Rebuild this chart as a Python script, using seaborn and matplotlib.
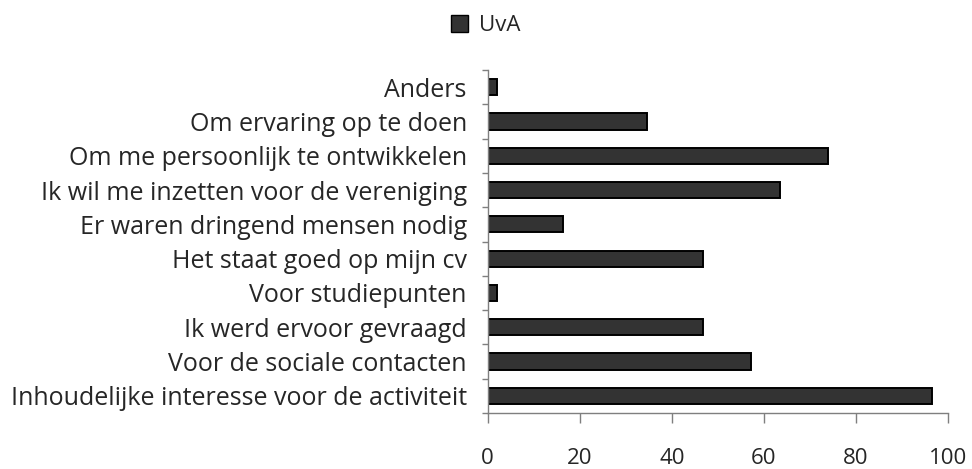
import matplotlib
matplotlib.use("Agg")
import matplotlib.pyplot as plt
import seaborn as sns
import numpy as np
import pandas as pd

categories = [
    "Anders",
    "Om ervaring op te doen",
    "Om me persoonlijk te ontwikkelen",
    "Ik wil me inzetten voor de vereniging",
    "Er waren dringend mensen nodig",
    "Het staat goed op mijn cv",
    "Voor studiepunten",
    "Ik werd ervoor gevraagd",
    "Voor de sociale contacten",
    "Inhoudelijke interesse voor de activiteit",
]
uva = [2.0, 34.7, 73.9, 63.6, 16.3, 46.8, 2.0, 46.8, 57.1, 96.6]
x_ticks = [0, 20, 40, 60, 80, 100]
series_name = "UvA"

sns.set_style("white")
plt.rcParams["font.family"] = ["Open Sans", "DejaVu Sans"]

df = pd.DataFrame({"categorie": categories, "waarde": uva})

fig = plt.figure(figsize=(9.72, 4.69), dpi=100)
ax = fig.add_axes([0.5017, 0.1194, 0.4736, 0.7313])

sns.barplot(data=df, x="waarde", y="categorie", order=categories,
            color="#333333", edgecolor="black", linewidth=1.4,
            width=0.47, saturation=1, ax=ax)

ax.set_xlim(0, 100)
ax.set_ylim(len(categories) - 0.5, -0.5)
ax.set_xlabel("")
ax.set_ylabel("")

ax.set_xticks(x_ticks)
ax.set_xticklabels([str(t) for t in x_ticks], fontsize=16)
ax.tick_params(axis="x", direction="out", length=7, width=1,
               color="#7f7f7f", pad=18, bottom=True)

ax.set_yticks(range(len(categories)))
ax.set_yticklabels(categories, fontsize=18)
ax.tick_params(axis="y", which="major", length=0, pad=15)
ax.set_yticks(np.arange(-0.5, len(categories)), minor=True)
ax.tick_params(axis="y", which="minor", direction="out", length=4,
               width=1, color="#7f7f7f", left=True)

for side in ["top", "right"]:
    ax.spines[side].set_visible(False)
for side in ["left", "bottom"]:
    ax.spines[side].set_color("#7f7f7f")
    ax.spines[side].set_linewidth(1)

handle = plt.Rectangle((0, 0), 1, 1, facecolor="#333333", edgecolor="black", linewidth=1)
fig.legend([handle], [series_name], loc="upper center", bbox_to_anchor=(0.5, 1.01),
           frameon=False, fontsize=16, handlelength=0.75, handleheight=0.75,
           handletextpad=0.5)

fig.savefig("out.png", dpi=100)
